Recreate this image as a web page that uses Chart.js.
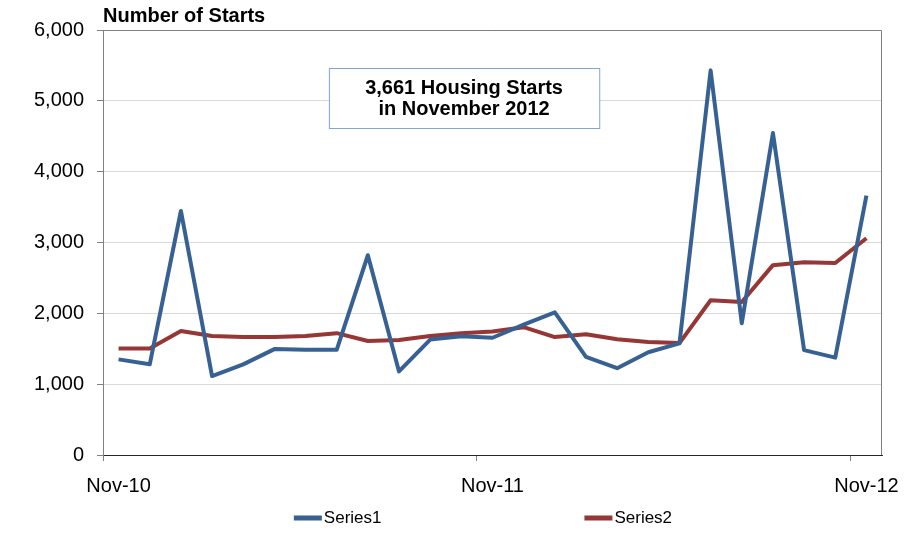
<!DOCTYPE html>
<html>
<head>
<meta charset="utf-8">
<script src="https://cdn.jsdelivr.net/npm/chart.js@4.4.1/dist/chart.umd.min.js"></script>
<style>
    html, body { margin: 0; padding: 0; background: #ffffff; }
    #wrap { width: 906px; height: 535px; position: relative; }
</style>
</head>
<body>
<div id="wrap"><canvas id="startsChart"></canvas></div>
<script>
// monthly categories, Nov-10 .. Nov-12
var months = ['Nov-10', 'Dec-10', 'Jan-11', 'Feb-11', 'Mar-11', 'Apr-11', 'May-11', 'Jun-11', 'Jul-11', 'Aug-11', 'Sep-11', 'Oct-11',
              'Nov-11', 'Dec-11', 'Jan-12', 'Feb-12', 'Mar-12', 'Apr-12', 'May-12', 'Jun-12', 'Jul-12', 'Aug-12', 'Sep-12', 'Oct-12',
              'Nov-12'];

var series1 = [1350, 1280, 3445, 1115, 1280, 1495, 1485, 1485, 2820, 1180, 1630, 1675,
               1655, 1840, 2015, 1385, 1225, 1450, 1575, 5430, 1860, 4545, 1480, 1375,
               3661];

var series2 = [1505, 1505, 1750, 1680, 1665, 1665, 1680, 1720, 1610, 1625, 1680, 1720,
               1745, 1805, 1665, 1705, 1635, 1595, 1580, 2185, 2160, 2680, 2720, 2710,
               3060];

var yTicks = [0, 1000, 2000, 3000, 4000, 5000, 6000];

var axisTitle = 'Number of Starts';
var noteLines = ['3,661 Housing Starts', 'in November 2012'];

var FONT = "'Liberation Sans', Arial, sans-serif";

// title above the y axis, note box, plot frame and legend
var extrasPlugin = {
    id: 'extras',
    afterDraw: function(chart)
    {
        var ctx = chart.ctx;
        var area = chart.chartArea;
        ctx.save();

        // top and right edge of the plot area
        ctx.strokeStyle = '#808080';
        ctx.lineWidth = 1;
        ctx.beginPath();
        ctx.moveTo(area.left, area.top + 0.5);
        ctx.lineTo(area.right - 0.5, area.top + 0.5);
        ctx.lineTo(area.right - 0.5, area.bottom);
        ctx.stroke();

        // axis title
        ctx.fillStyle = '#000000';
        ctx.font = 'bold 20px ' + FONT;
        ctx.textAlign = 'left';
        ctx.textBaseline = 'alphabetic';
        ctx.fillText(axisTitle, area.left, area.top - 8);

        // note box
        var w = area.right - area.left;
        var bx = area.left + w * 0.290;
        var bw = w * 0.347;
        var by = area.top + 38;
        var bh = 60;
        ctx.fillStyle = '#ffffff';
        ctx.fillRect(bx, by, bw, bh);
        ctx.strokeStyle = '#7ea6d8';
        ctx.strokeRect(bx + 0.5, by + 0.5, bw, bh);
        ctx.fillStyle = '#000000';
        ctx.font = 'bold 20px ' + FONT;
        ctx.textAlign = 'center';
        ctx.textBaseline = 'middle';
        ctx.fillText(noteLines[0], bx + bw / 2, by + 20);
        ctx.fillText(noteLines[1], bx + bw / 2, by + 41);

        // legend
        var ly = chart.height - 17;
        var starts = [area.left + w * 0.245, area.left + w * 0.618];
        ctx.font = '17px ' + FONT;
        ctx.textAlign = 'left';
        chart.data.datasets.forEach(function(ds, i)
        {
            ctx.fillStyle = ds.borderColor;
            ctx.fillRect(starts[i], ly - 2.5, 28, 5);
            ctx.fillStyle = '#000000';
            ctx.fillText(ds.label, starts[i] + 30, ly);
        });

        ctx.restore();
    }
};

var ctx = document.getElementById('startsChart').getContext('2d');
var chart = new Chart(ctx, {
    type: 'line',
    data: {
        labels: months,
        datasets: [{
            label: 'Series1',
            data: series1,
            borderColor: '#386193',
            backgroundColor: '#386193',
            borderWidth: 4,
            borderJoinStyle: 'round',
            pointRadius: 0,
            tension: 0,
            fill: false
        }, {
            label: 'Series2',
            data: series2,
            borderColor: '#963735',
            backgroundColor: '#963735',
            borderWidth: 4,
            borderJoinStyle: 'round',
            pointRadius: 0,
            tension: 0,
            fill: false
        }]
    },
    options: {
        responsive: true,
        maintainAspectRatio: false,
        animation: false,
        layout: {
            padding: { top: 30, right: 24, bottom: 0, left: 0 }
        },
        plugins: {
            legend: { display: false },
            tooltip: { enabled: false }
        },
        scales: {
            x: {
                type: 'category',
                offset: true,
                afterFit: function(scale)
                {
                    scale.height = 80;
                    scale.paddingLeft = 0;
                    scale.paddingRight = 0;
                },
                border: { color: '#262626', width: 1 },
                grid: {
                    offset: true,
                    drawOnChartArea: false,
                    drawTicks: true,
                    tickLength: 6,
                    tickColor: function(c) { return c.index % 12 === 0 ? '#808080' : 'rgba(0,0,0,0)'; }
                },
                ticks: {
                    autoSkip: false,
                    maxRotation: 0,
                    padding: 13,
                    color: '#000000',
                    font: { family: FONT, size: 20 },
                    callback: function(value, index) { return index % 12 === 0 ? months[index] : ''; }
                }
            },
            y: {
                min: 0,
                max: 6000,
                afterFit: function(scale)
                {
                    scale.width = 103;
                    scale.paddingTop = 0;
                    scale.paddingBottom = 0;
                },
                afterBuildTicks: function(scale) { scale.ticks = yTicks.map(function(v) { return { value: v }; }); },
                border: { color: '#808080', width: 1 },
                grid: {
                    color: '#d9d9d9',
                    tickColor: '#808080',
                    tickLength: 6
                },
                ticks: {
                    padding: 13,
                    color: '#000000',
                    font: { family: FONT, size: 20 },
                    callback: function(value) { return value.toLocaleString('en-US'); }
                }
            }
        }
    },
    plugins: [extrasPlugin]
});
</script>
</body>
</html>
